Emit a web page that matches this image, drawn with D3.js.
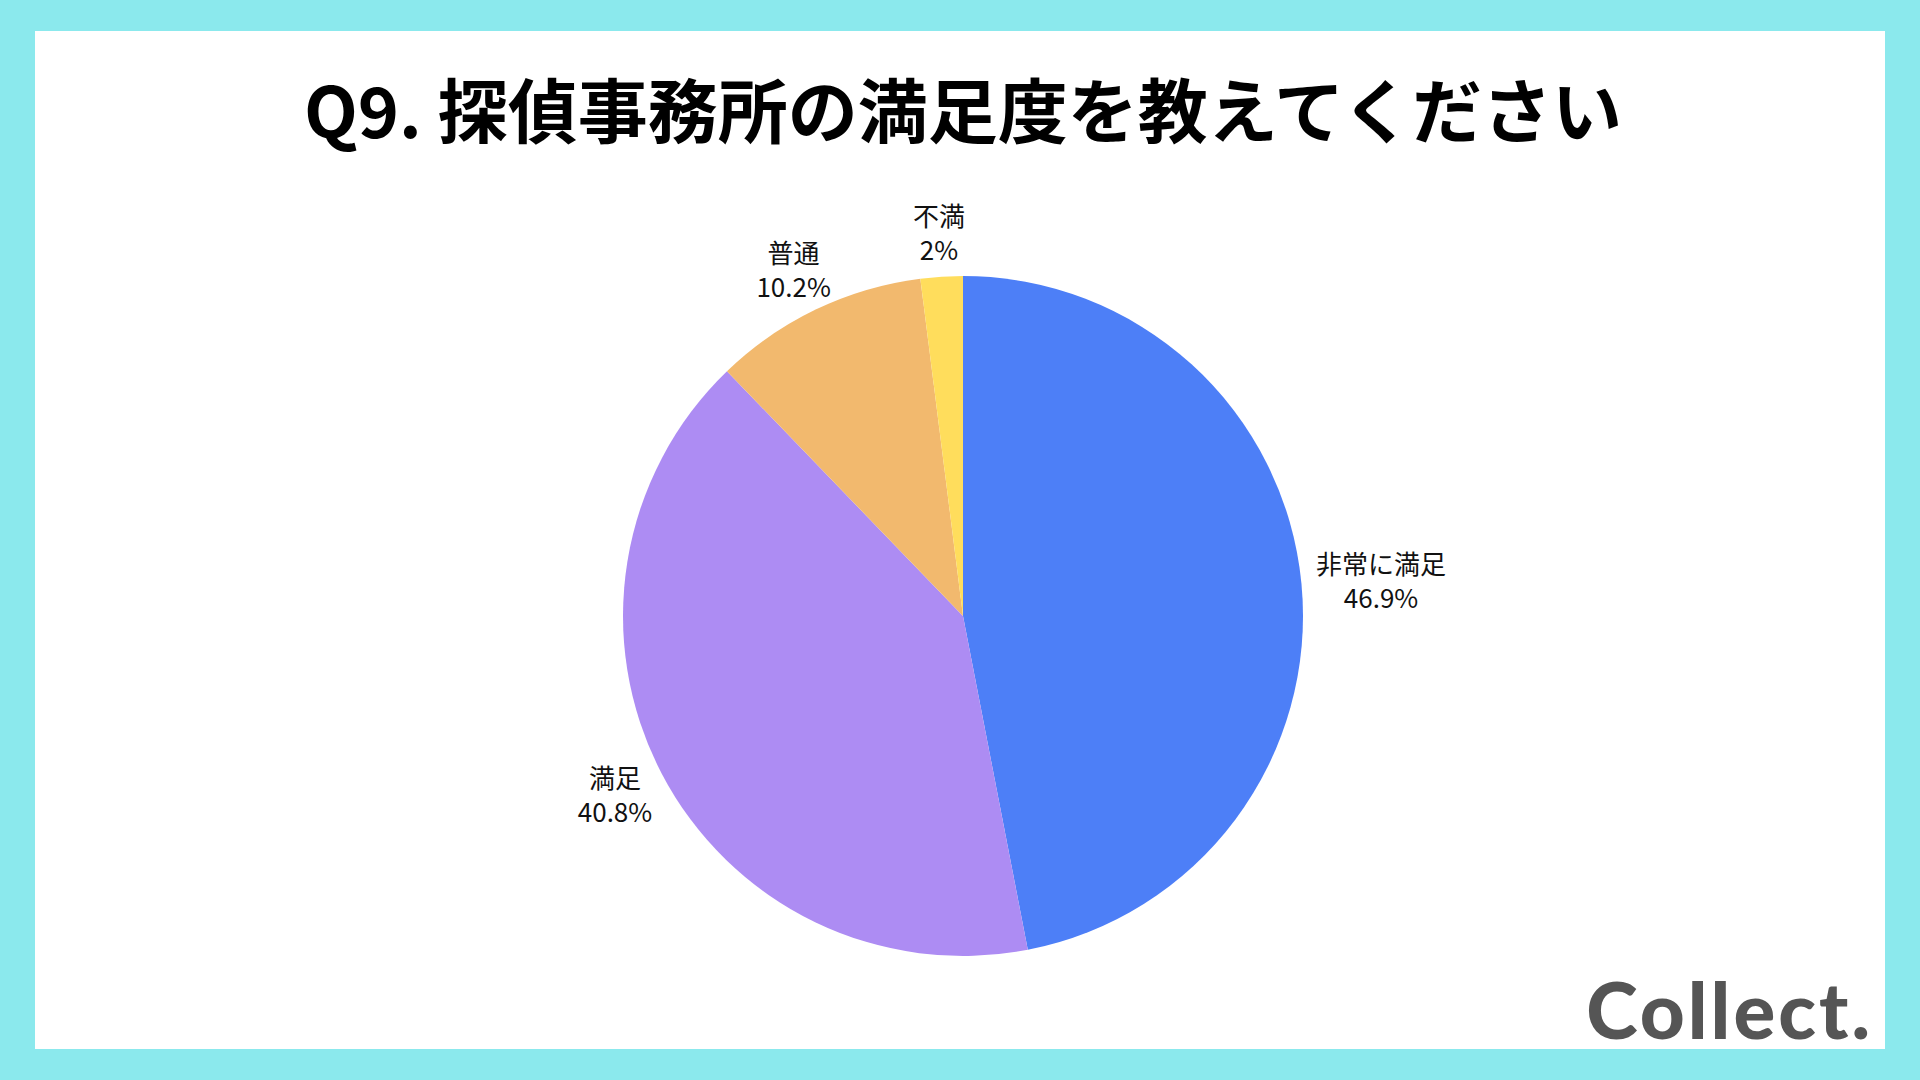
<!DOCTYPE html>
<html>
<head>
<meta charset="utf-8">
<script src="https://cdn.jsdelivr.net/npm/d3@7"></script>
<style>
  html, body { margin: 0; padding: 0; background: #8be9ed; }
  svg { display: block; }
</style>
</head>
<body>
<script>
  const WIDTH = 1920
  const HEIGHT = 1080

  // 回答データ
  const LABELS = ['非常に満足', '満足', '普通', '不満']
  const VALUES = [46.9, 40.8, 10.2, 2]
  const COLORS = ['#4d7ff7', '#ad8cf3', '#f2b96e', '#ffdd5c']
  const TITLE = 'Q9. 探偵事務所の満足度を教えてください'

  const CX = 963
  const CY = 616
  const RADIUS = 340
  const LABEL_R = 355
  const LINE_GAP = 34

  const svg = d3.select('body').append('svg')
    .attr('width', WIDTH)
    .attr('height', HEIGHT)

  // 枠
  svg.append('rect')
    .attr('width', WIDTH).attr('height', HEIGHT)
    .attr('fill', '#8be9ed')
  svg.append('rect')
    .attr('x', 35).attr('y', 31)
    .attr('width', 1850).attr('height', 1018)
    .attr('fill', '#fff')

  // タイトル
  svg.append('text')
    .attr('x', 963).attr('y', 107)
    .attr('text-anchor', 'middle')
    .attr('dominant-baseline', 'central')
    .attr('font-family', '"Noto Sans CJK JP", "Noto Sans", sans-serif')
    .attr('font-weight', 700)
    .attr('font-size', 70)
    .attr('fill', '#000')
    .text(TITLE)

  const pie = d3.pie().sort(null).value(d => d)
  const arcs = pie(VALUES)
  const arc = d3.arc().innerRadius(0).outerRadius(RADIUS)
  const color = d3.scaleOrdinal().domain(LABELS).range(COLORS)

  const g = svg.append('g').attr('transform', `translate(${CX},${CY})`)

  g.selectAll('path')
    .data(arcs)
    .enter()
    .append('path')
    .attr('d', arc)
    .attr('fill', (d, i) => color(LABELS[i]))

  // ラベル
  const labels = g.selectAll('g.label')
    .data(arcs)
    .enter()
    .append('g')
    .attr('class', 'label')
    .attr('font-family', '"Noto Sans CJK JP", "Noto Sans", sans-serif')
    .attr('font-size', 26)
    .attr('fill', '#111')
    .attr('text-anchor', 'middle')

  labels.append('text')
    .attr('y', -LINE_GAP / 2)
    .attr('dominant-baseline', 'central')
    .text((d, i) => LABELS[i])
  labels.append('text')
    .attr('y', LINE_GAP / 2)
    .attr('dominant-baseline', 'central')
    .text((d, i) => VALUES[i] + '%')

  labels.attr('transform', function (d) {
    const a = (d.startAngle + d.endAngle) / 2
    const sx = Math.sin(a)
    const sy = -Math.cos(a)
    const box = this.getBBox()
    const x = (LABEL_R + box.width / 2) * sx
    const y = (LABEL_R + 30) * sy
    return `translate(${x},${y})`
  })

  // ロゴ
  svg.append('text')
    .attr('x', 1873).attr('y', 1039)
    .attr('text-anchor', 'end')
    .attr('font-family', 'Lato, sans-serif')
    .attr('font-weight', 900)
    .attr('font-size', 78)
    .attr('letter-spacing', 3)
    .attr('fill', '#555')
    .text('Collect.')
</script>
</body>
</html>
